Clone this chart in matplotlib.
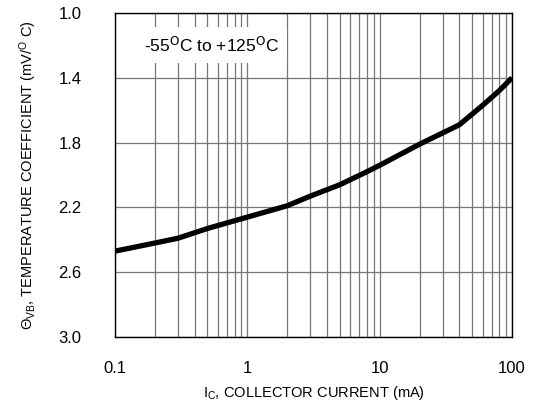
import numpy as np
import matplotlib.pyplot as plt
from matplotlib.ticker import FixedLocator, NullFormatter

plt.rcParams['font.family'] = ['Liberation Sans', 'DejaVu Sans']
plt.rcParams['mathtext.fontset'] = 'custom'
plt.rcParams['mathtext.rm'] = 'Liberation Sans'
plt.rcParams['mathtext.it'] = 'Liberation Sans'

# collector current (mA) vs temperature coefficient (mV/C)
current = [0.1, 0.2, 0.3, 0.5, 1, 2, 3, 5, 8, 10, 20, 30, 40, 60, 80, 100]
coeff = [2.47, 2.42, 2.39, 2.33, 2.26, 2.19, 2.13, 2.06, 1.98, 1.94, 1.81, 1.74, 1.69, 1.57, 1.48, 1.40]

x_ticks = [0.1, 1, 10, 100]
x_labels = ['0.1', '1', '10', '100']
y_ticks = [1.0, 1.4, 1.8, 2.2, 2.6, 3.0]

fig = plt.figure(figsize=(5.35, 4.05), dpi=100)
ax = fig.add_axes([115/535, 1 - 337/405, (512-115)/535, (337-13)/405])

ax.plot(current, coeff, color='black', lw=3.8, solid_capstyle='butt', zorder=3)

ax.set_xscale('log')
ax.set_xlim(0.1, 100)
ax.set_ylim(3.0, 1.0)
ax.set_xticks(x_ticks)
ax.set_xticklabels(x_labels)
minors = [m * d for d in [0.1, 1, 10] for m in range(2, 10)]
ax.xaxis.set_minor_locator(FixedLocator(minors))
ax.xaxis.set_minor_formatter(NullFormatter())
ax.set_yticks(y_ticks)
ax.set_yticklabels(['%.1f' % v for v in y_ticks])

ax.grid(True, which='both', axis='x', color='#777777', lw=0.9)
ax.grid(True, which='major', axis='y', color='#777777', lw=0.9)
ax.tick_params(which='both', length=0)
ax.tick_params(axis='x', pad=17, labelsize=12)
ax.tick_params(axis='y', pad=24, labelsize=12)
for s in ax.spines.values():
    s.set_linewidth(1.0)

ax.text(0.165, 1.2, '-55$^{\\mathsf{O}}$C to +125$^{\\mathsf{O}}$C', fontsize=12.5,
        ha='left', va='center', zorder=4,
        bbox=dict(facecolor='white', edgecolor='none', pad=6))

ax.set_xlabel('I$_{C}$, COLLECTOR CURRENT (mA)', fontsize=10.5, labelpad=6)
ax.set_ylabel(r'$\Theta_{VB}$, TEMPERATURE COEFFICIENT (mV/$^{O}$ C)', fontsize=10.5, labelpad=14)

fig.savefig('out.png', dpi=100)
